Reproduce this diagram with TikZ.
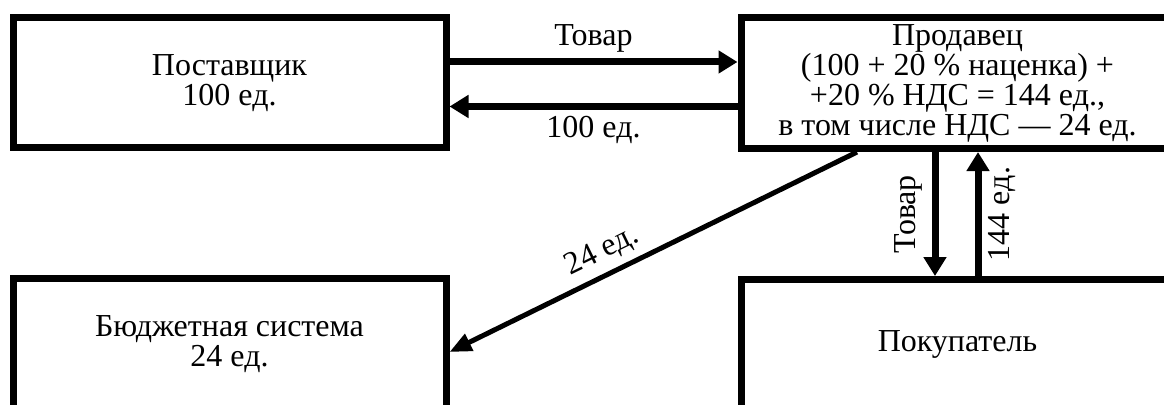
\documentclass[tikz,border=0pt]{standalone}
\usepackage{fontspec}
\setmainfont{Liberation Serif}
\usepackage{tikz}
\usetikzlibrary{arrows.meta, positioning}
\tikzstyle{block} = [rectangle, draw, line width=3.5pt, fill=white, align=center,
    minimum width=216.5pt, minimum height=65pt]
\tikzstyle{line} = [draw, line width=3.5pt, -{Triangle[length=9.5pt, width=11pt]}]
\tikzstyle{thinline} = [draw, line width=2.5pt, -{Triangle[length=11pt, width=9pt]}]

\begin{document}
\begin{tikzpicture}[node distance = 62pt and 144pt, auto, font=\fontsize{16}{15}\selectfont]
      \useasboundingbox (0,0) rectangle (582pt,-202.5pt);
      % Boxes
      \node [block] (supplier) at (114.75pt,-41.5pt) {Поставщик\\100 ед.};
      \node [block, right=of supplier] (seller) {Продавец\\(100 + 20 \% наценка) +\\+20 \% НДС = 144 ед.,\\в том числе НДС — 24 ед.};
      \node [block, below=of supplier] (budget) {Бюджетная система\\24 ед.};
      \node [block, below=of seller] (buyer) {Покупатель};
      % Draw edges
      \path [line] ([yshift=10.5pt]supplier.east) -- node [above] {Товар} ([yshift=10.5pt]seller.west);
      \path [line] ([yshift=-11.75pt]seller.west) -- node [below] {100 ед.} ([yshift=-11.75pt]supplier.east);
      \path [line] ([xshift=-11.25pt]seller.south) -- node [rotate=90, anchor=south, inner sep=4.5pt] {Товар} ([xshift=-11.25pt]buyer.north);
      \path [line] ([xshift=10.25pt]buyer.north) -- node [rotate=90, anchor=north] {144 ед.} ([xshift=10.25pt]seller.south);
      \path [thinline] ([xshift=-50.25pt]seller.south) -- node [sloped, above, pos=0.6] {24 ед.} ([yshift=-4pt]budget.east);
    \end{tikzpicture}
\end{document}
